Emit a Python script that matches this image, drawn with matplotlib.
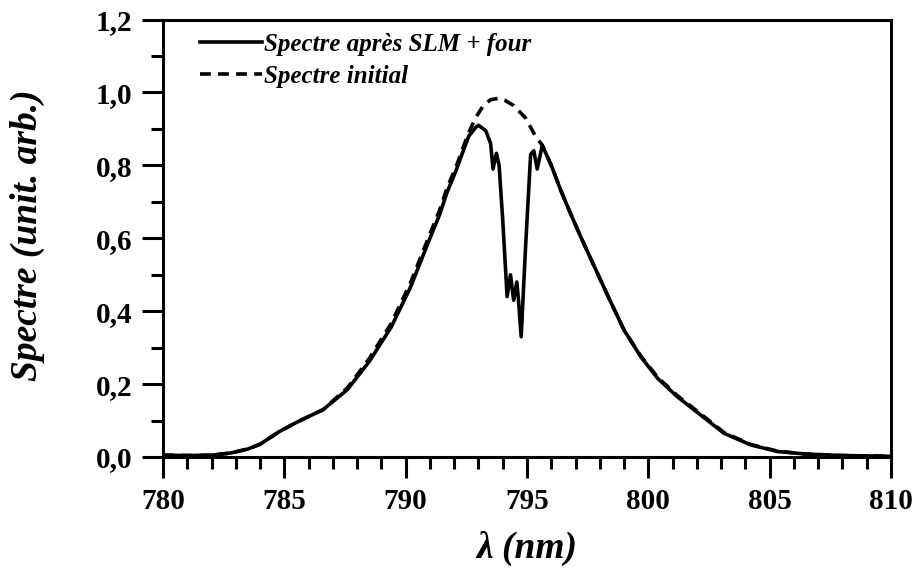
import numpy as np
import matplotlib
matplotlib.use('Agg')
from matplotlib import pyplot as plt
from matplotlib.ticker import MultipleLocator, FuncFormatter

# spectre apres SLM + four (trait plein)
lam_slm = [780.0, 781.0, 782.0, 782.8, 783.5, 784.0, 784.8, 785.5, 786.6, 787.6,
           788.5, 789.4, 790.2, 791.0, 791.4, 791.7, 792.1, 792.4, 792.6, 792.9,
           793.0, 793.3, 793.5, 793.6, 793.74, 793.85, 794.0, 794.18, 794.32, 794.45,
           794.58, 794.65, 794.76, 794.94, 795.15, 795.28, 795.42, 795.63, 796.0, 796.4,
           796.8, 797.2, 797.62, 798.31, 799.0, 799.69, 800.38, 801.2, 802.16, 803.12,
           804.23, 805.33, 806.5, 808.0, 810.0]
spec_slm = [0.005, 0.004, 0.005, 0.011, 0.022, 0.035, 0.070, 0.095, 0.130, 0.185,
            0.262, 0.356, 0.466, 0.600, 0.665, 0.725, 0.790, 0.845, 0.880, 0.905,
            0.910, 0.895, 0.860, 0.790, 0.833, 0.800, 0.650, 0.440, 0.500, 0.430,
            0.480, 0.430, 0.330, 0.575, 0.830, 0.840, 0.790, 0.855, 0.800, 0.730,
            0.667, 0.606, 0.545, 0.445, 0.348, 0.275, 0.216, 0.165, 0.115, 0.065,
            0.033, 0.015, 0.008, 0.004, 0.002]

# spectre initial (tirets)
lam_init = [780.0, 781.0, 782.0, 782.8, 783.5, 784.0, 784.8, 785.5, 786.6, 787.6,
            788.5, 789.4, 790.2, 791.0, 791.4, 791.7, 792.1, 792.4, 792.6, 792.88,
            793.2, 793.5, 793.83, 794.1, 794.45, 794.94, 795.35, 795.63, 796.0, 796.4,
            796.8, 797.2, 797.62, 798.31, 799.0, 799.69, 800.38, 801.2, 802.16, 803.12,
            804.23, 805.33, 806.5, 808.0, 810.0]
spec_init = [0.005, 0.004, 0.005, 0.011, 0.022, 0.035, 0.070, 0.095, 0.130, 0.190,
             0.270, 0.366, 0.478, 0.612, 0.677, 0.737, 0.800, 0.855, 0.890, 0.930,
             0.964, 0.980, 0.984, 0.978, 0.964, 0.930, 0.880, 0.855, 0.800, 0.730,
             0.667, 0.606, 0.545, 0.445, 0.348, 0.277, 0.219, 0.168, 0.118, 0.067,
             0.034, 0.016, 0.008, 0.004, 0.002]

plt.rcParams['font.family'] = ['Liberation Serif', 'DejaVu Serif']

fig = plt.figure(figsize=(9.19, 5.76), dpi=100)
ax = fig.add_axes([0.1774, 0.2066, 0.7921, 0.7595])

ax.plot(lam_slm, spec_slm, color='black', lw=2.6, label='Spectre après SLM + four')
ax.plot(lam_init, spec_init, color='black', lw=2.6, dashes=(3, 2), label='Spectre initial')

ax.set_xlim(780, 810)
ax.set_ylim(0, 1.2)
ax.xaxis.set_major_locator(MultipleLocator(5))
ax.xaxis.set_minor_locator(MultipleLocator(1))
ax.yaxis.set_major_locator(MultipleLocator(0.2))
ax.yaxis.set_minor_locator(MultipleLocator(0.1))
ax.yaxis.set_major_formatter(FuncFormatter(lambda v, p: f'{v:.1f}'.replace('.', ',')))

for s in ax.spines.values():
    s.set_linewidth(2.2)
ax.tick_params(which='major', direction='out', length=15, width=2.2, labelsize=21, pad=7)
ax.tick_params(which='minor', direction='out', length=8.5, width=2.2)
for lab in ax.get_xticklabels() + ax.get_yticklabels():
    lab.set_fontweight('bold')

ax.set_xlabel('λ (nm)', fontsize=27, fontweight='bold', style='italic')
ax.set_ylabel('Spectre (unit. arb.)', fontsize=27, fontweight='bold', style='italic')
ax.xaxis.set_label_coords(0.5, -0.17)
ax.yaxis.set_label_coords(-0.162, 0.507)

leg = ax.legend(loc='upper left', bbox_to_anchor=(0.037, 0.992), frameon=False,
                handlelength=2.5, handletextpad=0.05, borderaxespad=0.0,
                labelspacing=0.35,
                prop={'size': 18, 'weight': 'bold', 'style': 'italic'})

fig.savefig('out.png', dpi=100)
